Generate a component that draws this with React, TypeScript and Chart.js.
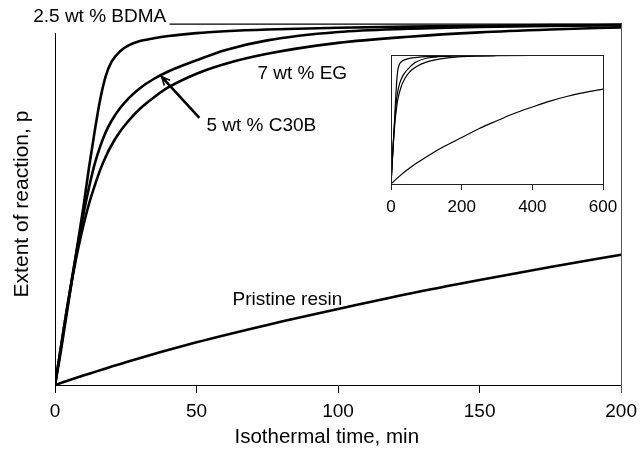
import React, { useEffect, useRef } from "react";
import { Chart, registerables } from "chart.js";
Chart.register(...registerables);

// ---- data ----
const timeMin = [0, 2, 4, 6, 8, 10, 12, 14, 16, 18, 20, 23, 26, 30, 35, 40, 50, 60, 75, 100, 125, 150, 175, 200];
const bdma = [0, 0.09, 0.19, 0.29, 0.39, 0.49, 0.6, 0.7, 0.79, 0.855, 0.893, 0.922, 0.938, 0.95, 0.958, 0.964, 0.972, 0.977, 0.982, 0.987, 0.99, 0.992, 0.994, 0.995];
const c30b = [0, 0.1, 0.2, 0.295, 0.385, 0.47, 0.545, 0.61, 0.66, 0.7, 0.73, 0.765, 0.792, 0.82, 0.846, 0.866, 0.897, 0.925, 0.952, 0.975, 0.984, 0.989, 0.992, 0.994];
const eg = [0, 0.1, 0.2, 0.29, 0.37, 0.44, 0.5, 0.55, 0.595, 0.632, 0.663, 0.7, 0.73, 0.763, 0.795, 0.822, 0.86, 0.887, 0.915, 0.945, 0.962, 0.974, 0.982, 0.988];

const insetExtraTime = [250, 300, 400, 500, 600];
const bdmaExtra = [0.996, 0.997, 0.998, 0.999, 0.999];
const c30bExtra = [0.995, 0.996, 0.998, 0.999, 0.999];
const egExtra = [0.992, 0.994, 0.997, 0.998, 0.999];

const pristineTime = [0, 10, 25, 50, 75, 100, 125, 150, 175, 200, 250, 300, 350, 400, 450, 500, 550, 600];
const pristine = [0, 0.026, 0.063, 0.118, 0.166, 0.21, 0.252, 0.29, 0.326, 0.36, 0.43, 0.49, 0.548, 0.597, 0.643, 0.68, 0.71, 0.736];

const mainTicks = [0, 50, 100, 150, 200];
const insetTicks = [0, 200, 400, 600];

const seriesLabels = ["2.5 wt % BDMA", "5 wt % C30B", "7 wt % EG", "Pristine resin"];
const xTitle = "Isothermal time, min";
const yTitle = "Extent of reaction, p";

const FONT = "'Liberation Sans', Arial, Helvetica, sans-serif";

const pts = (xs: number[], ys: number[], maxX: number) =>
  xs.map((x, i) => ({ x, y: ys[i] })).filter((p) => p.x <= maxX);

const annotations = {
  id: "annotations",
  afterDraw(chart: any) {
    const { ctx, chartArea, scales } = chart;
    const xs = scales.x;
    const ys = scales.y;
    const X = (v: number) => xs.getPixelForValue(v);
    const Y = (v: number) => ys.getPixelForValue(v);
    ctx.save();
    // left axis line
    ctx.strokeStyle = "#000";
    ctx.lineWidth = 1;
    ctx.beginPath();
    ctx.moveTo(Math.round(chartArea.left) + 0.5, Y(0.972));
    ctx.lineTo(Math.round(chartArea.left) + 0.5, chartArea.bottom);
    ctx.stroke();
    // right frame line
    ctx.strokeStyle = "#555";
    ctx.beginPath();
    ctx.moveTo(Math.round(chartArea.right) + 0.5, chartArea.top);
    ctx.lineTo(Math.round(chartArea.right) + 0.5, chartArea.bottom + 8);
    ctx.stroke();

    ctx.fillStyle = "#000";
    ctx.textBaseline = "middle";
    // x title
    ctx.font = `20.5px ${FONT}`;
    ctx.textAlign = "center";
    ctx.fillText(xTitle, X(96), chartArea.bottom + 52);

    ctx.font = `19px ${FONT}`;
    ctx.textAlign = "left";
    // BDMA label + leader
    ctx.fillText(seriesLabels[0], X(-7.7), Y(1.017));
    ctx.strokeStyle = "#000";
    ctx.lineWidth = 1.3;
    ctx.beginPath();
    ctx.moveTo(X(40.5), Y(0.997));
    ctx.lineTo(X(200), Y(0.997));
    ctx.stroke();
    // EG label
    ctx.fillText(seriesLabels[2], X(71.5), Y(0.859));
    // C30B label + arrow
    ctx.fillText(seriesLabels[1], X(53.5), Y(0.715));
    const x1 = X(51), y1 = Y(0.7376), x2 = X(37.7), y2 = Y(0.851);
    ctx.lineWidth = 2.6;
    ctx.beginPath();
    ctx.moveTo(x1, y1);
    ctx.lineTo(x2, y2);
    ctx.stroke();
    const ang = Math.atan2(y2 - y1, x2 - x1);
    const hl = 9;
    ctx.lineWidth = 1.6;
    ctx.beginPath();
    ctx.moveTo(x2 - hl * Math.cos(ang - 0.45), y2 - hl * Math.sin(ang - 0.45));
    ctx.lineTo(x2, y2);
    ctx.lineTo(x2 - hl * Math.cos(ang + 0.45), y2 - hl * Math.sin(ang + 0.45));
    ctx.stroke();
    // Pristine label
    ctx.fillText(seriesLabels[3], X(62.7), Y(0.235));
    ctx.restore();
  },
};

const insetFrame = {
  id: "insetFrame",
  afterDraw(chart: any) {
    const { ctx, chartArea } = chart;
    ctx.save();
    ctx.strokeStyle = "#222";
    ctx.lineWidth = 1;
    const l = Math.round(chartArea.left) + 0.5;
    const t = Math.round(chartArea.top) + 0.5;
    const r = Math.round(chartArea.right) + 0.5;
    const b = Math.round(chartArea.bottom) + 0.5;
    ctx.strokeRect(l, t, r - l, b - t);
    ctx.restore();
  },
};

const lineDs = (data: any[], width: number) => ({
  data,
  borderColor: "#000",
  borderWidth: width,
  pointRadius: 0,
  fill: false,
  cubicInterpolationMode: "monotone" as const,
});

export default function App() {
  const mainRef = useRef<HTMLCanvasElement>(null);
  const insetRef = useRef<HTMLCanvasElement>(null);

  useEffect(() => {
    const main = new Chart(mainRef.current!, {
      type: "line",
      data: {
        datasets: [
          lineDs(pts(timeMin, bdma, 200), 2.6),
          lineDs(pts(timeMin, c30b, 200), 2.6),
          lineDs(pts(timeMin, eg, 200), 2.6),
          lineDs(pts(pristineTime, pristine, 200), 2.6),
        ],
      },
      options: {
        animation: false,
        responsive: false,
        layout: { padding: { top: 23, right: 20, left: 0, bottom: 0 } },
        plugins: { legend: { display: false }, tooltip: { enabled: false } },
        scales: {
          x: {
            type: "linear",
            min: 0,
            max: 200,
            afterBuildTicks: (s: any) => {
              s.ticks = mainTicks.map((v) => ({ value: v }));
            },
            afterFit: (s: any) => {
              s.height = 66;
            },
            grid: { display: true, drawOnChartArea: false, drawTicks: true, tickLength: 8, color: "#000" },
            border: { display: true, color: "#000", width: 1 },
            ticks: { font: { family: FONT, size: 19 }, color: "#000", padding: 7, maxRotation: 0 },
            title: { display: false },
          },
          y: {
            type: "linear",
            min: 0,
            max: 1,
            afterFit: (s: any) => {
              s.width = 55;
            },
            grid: { display: false },
            border: { display: false },
            ticks: { display: false },
            title: {
              display: true,
              text: yTitle,
              font: { family: FONT, size: 21 },
              color: "#000",
              padding: { top: 10, bottom: 0 },
            },
          },
        },
      } as any,
      plugins: [annotations],
    });

    const inset = new Chart(insetRef.current!, {
      type: "line",
      data: {
        datasets: [
          lineDs(pts(timeMin.concat(insetExtraTime), bdma.concat(bdmaExtra), 600), 1.2),
          lineDs(pts(timeMin.concat(insetExtraTime), c30b.concat(c30bExtra), 600), 1.2),
          lineDs(pts(timeMin.concat(insetExtraTime), eg.concat(egExtra), 600), 1.2),
          lineDs(pts(pristineTime, pristine, 600), 1.2),
        ],
      },
      options: {
        animation: false,
        responsive: false,
        layout: { padding: { top: 10, right: 23, left: 0, bottom: 0 } },
        plugins: { legend: { display: false }, tooltip: { enabled: false } },
        scales: {
          x: {
            type: "linear",
            min: 0,
            max: 600,
            afterBuildTicks: (s: any) => {
              s.ticks = insetTicks.map((v) => ({ value: v }));
            },
            afterFit: (s: any) => {
              s.height = 41;
            },
            grid: { display: true, drawOnChartArea: false, drawTicks: true, tickLength: 6, color: "#222" },
            border: { display: false },
            ticks: { font: { family: FONT, size: 17 }, color: "#000", padding: 7, maxRotation: 0 },
          },
          y: {
            type: "linear",
            min: 0,
            max: 1,
            afterFit: (s: any) => {
              s.width = 20;
            },
            grid: { display: false },
            border: { display: false },
            ticks: { display: false },
          },
        },
      } as any,
      plugins: [insetFrame],
    });

    return () => {
      main.destroy();
      inset.destroy();
    };
  }, []);

  return (
    <div style={{ position: "fixed", left: 0, top: 0, width: 644, height: 451, background: "#fff" }}>
      <canvas ref={mainRef} width={644} height={451} style={{ position: "absolute", left: 0, top: 0 }} />
      <canvas ref={insetRef} width={255} height={180} style={{ position: "absolute", left: 371, top: 45 }} />
    </div>
  );
}
